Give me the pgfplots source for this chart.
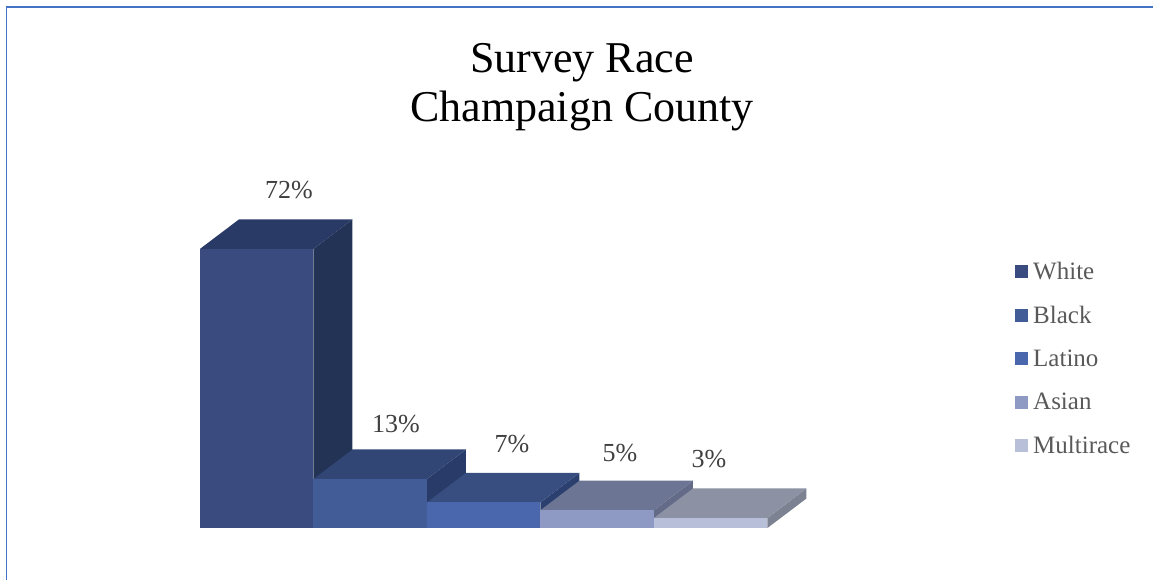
\documentclass[border=0pt]{standalone}
\usepackage{pgfplots}
\pgfplotsset{compat=1.18}
\usepackage{fontspec}
\setmainfont{Liberation Serif}
\definecolor{fa}{HTML}{3A4B80}\definecolor{ta}{HTML}{2A3A66}\definecolor{sa}{HTML}{233355}
\definecolor{fb}{HTML}{425C98}\definecolor{tb}{HTML}{314674}\definecolor{sb}{HTML}{293B68}
\definecolor{fc}{HTML}{4A66AC}\definecolor{tc}{HTML}{384E80}\definecolor{sc}{HTML}{2C4070}
\definecolor{fd}{HTML}{8F9AC4}\definecolor{td}{HTML}{6C7594}\definecolor{sd}{HTML}{636B89}
\definecolor{fe}{HTML}{B8BFD9}\definecolor{te}{HTML}{8C92A3}\definecolor{se}{HTML}{7C8291}
\definecolor{frameblue}{HTML}{4472C4}
\definecolor{lbl}{HTML}{404040}
\definecolor{leg}{HTML}{595959}
\pgfplotstableread{
x y label
0.284 87.1 72\%
1.227 27.1 13\%
2.249 22.0 7\%
3.200 19.7 5\%
3.985 18.1 3\%
}\labeltable
\begin{document}
\begin{tikzpicture}[x=1pt,y=1pt]
\path[use as bounding box] (0,0) rectangle (1153,580);
\draw[frameblue,line width=1.4pt] (6.5,0) -- (6.5,573) -- (1153,573);
\begin{axis}[
  at={(0,0)},anchor=south west,
  scale only axis,width=1153pt,height=580pt,
  xmin=-2.2621,xmax=7.8965,ymin=-12.9,ymax=135.82,
  hide axis,clip=false,
  legend style={at={(1015pt,320.5pt)},anchor=north west,draw=none,fill=none,
    font=\fontsize{25}{28}\selectfont,text=leg,
    row sep=21.2pt,inner sep=0pt,
    /tikz/every odd column/.append style={column sep=3pt}},
  legend image code/.code={\fill[#1] (0pt,-6.5pt) rectangle (13pt,6.5pt);},
  legend cell align=left,
]
% White
\addplot[draw=none,fill=sa,forget plot] coordinates {(0.5,0.44)(0.8436,8.004)(0.8436,79.564)(0.5,72)} --cycle;
\addplot[draw=none,fill=ta,forget plot] coordinates {(-0.5,72)(0.5,72)(0.8436,79.564)(-0.1564,79.564)} --cycle;
\addplot[draw=none,fill=fa] coordinates {(-0.5,0.44)(0.5,0.44)(0.5,72)(-0.5,72)} --cycle;
\addlegendentry{White}
% Black
\addplot[draw=none,fill=sb,forget plot] coordinates {(1.5,0.44)(1.8436,8.004)(1.8436,20.564)(1.5,13)} --cycle;
\addplot[draw=none,fill=tb,forget plot] coordinates {(0.5,13)(1.5,13)(1.8436,20.564)(0.8436,20.564)} --cycle;
\addplot[draw=none,fill=fb] coordinates {(0.5,0.44)(1.5,0.44)(1.5,13)(0.5,13)} --cycle;
\addlegendentry{Black}
% Latino
\addplot[draw=none,fill=sc,forget plot] coordinates {(2.5,0.44)(2.8436,8.004)(2.8436,14.564)(2.5,7)} --cycle;
\addplot[draw=none,fill=tc,forget plot] coordinates {(1.5,7)(2.5,7)(2.8436,14.564)(1.8436,14.564)} --cycle;
\addplot[draw=none,fill=fc] coordinates {(1.5,0.44)(2.5,0.44)(2.5,7)(1.5,7)} --cycle;
\addlegendentry{Latino}
% Asian
\addplot[draw=none,fill=sd,forget plot] coordinates {(3.5,0.44)(3.8436,8.004)(3.8436,12.564)(3.5,5)} --cycle;
\addplot[draw=none,fill=td,forget plot] coordinates {(2.5,5)(3.5,5)(3.8436,12.564)(2.8436,12.564)} --cycle;
\addplot[draw=none,fill=fd] coordinates {(2.5,0.44)(3.5,0.44)(3.5,5)(2.5,5)} --cycle;
\addlegendentry{Asian}
% Multirace
\addplot[draw=none,fill=se,forget plot] coordinates {(4.5,0.44)(4.8436,8.004)(4.8436,10.564)(4.5,3)} --cycle;
\addplot[draw=none,fill=te,forget plot] coordinates {(3.5,3)(4.5,3)(4.8436,10.564)(3.8436,10.564)} --cycle;
\addplot[draw=none,fill=fe] coordinates {(3.5,0.44)(4.5,0.44)(4.5,3)(3.5,3)} --cycle;
\addlegendentry{Multirace}
% data labels
\addplot[draw=none,forget plot,mark=none,
  nodes near coords,point meta=explicit symbolic,
  every node near coord/.append style={anchor=center,text=lbl,inner sep=0pt,
     font=\fontsize{26}{30}\selectfont}]
  table[x=x,y=y,meta=label]{\labeltable};
\end{axis}
\node[align=center,font=\fontsize{44}{49}\selectfont,text=black,anchor=center] at (582,492.5) {Survey Race\\Champaign County};
\end{tikzpicture}
\end{document}
